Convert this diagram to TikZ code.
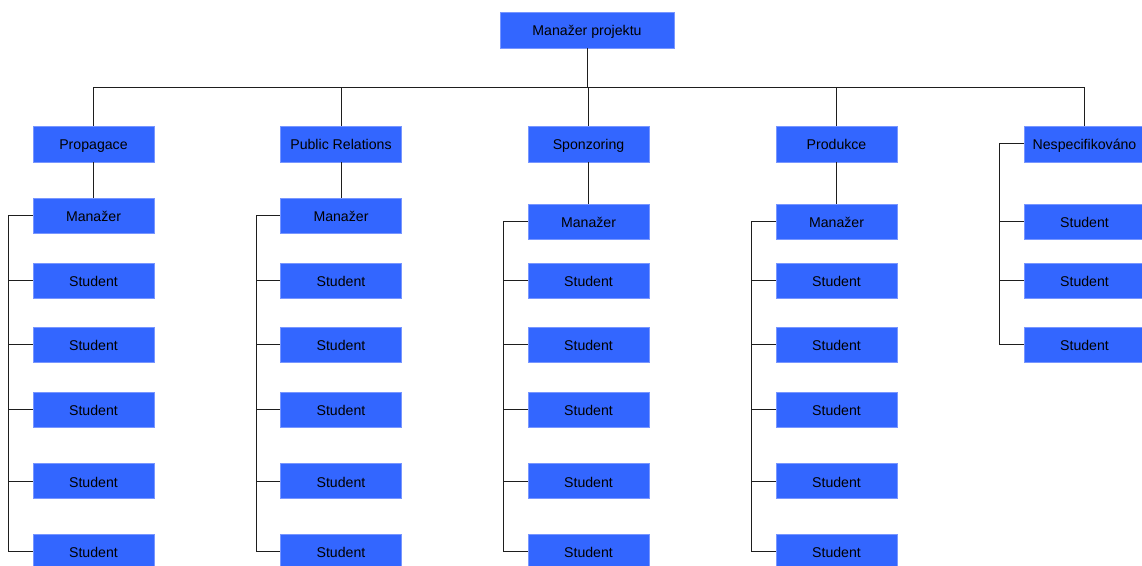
\documentclass[tikz,border=0pt]{standalone}
\usepackage{fontspec}
\setmainfont{Liberation Sans}
\definecolor{boxfill}{RGB}{51,102,255}
\definecolor{boxedge}{RGB}{120,150,255}
\definecolor{wire}{RGB}{30,30,30}
\begin{document}
\begin{tikzpicture}[x=0.75pt,y=-0.75pt,
  unit/.style={rectangle,fill=boxfill,draw=boxedge,line width=0.4pt,
    inner sep=0pt,minimum width=90.75pt,minimum height=26.4pt,
    text height=9pt,text depth=0pt,
    font=\fontsize{10.6pt}{12pt}\selectfont,text=black},
  link/.style={draw=wire,line width=0.75pt}]
\useasboundingbox (0,0) rectangle (1142,566);
\begin{scope}
\clip (0,0) rectangle (1142,566);

% project manager
\node[unit,minimum width=130.5pt,minimum height=27pt] (top) at (587,30) {Manažer projektu};

% departments
\node[unit,minimum height=27pt] (c1) at (93.5,144) {Propagace};
\node[unit,minimum height=27pt] (c2) at (341,144) {Public Relations};
\node[unit,minimum height=27pt] (c3) at (588.5,144) {Sponzoring};
\node[unit,minimum height=27pt] (c4) at (836.5,144) {Produkce};
\node[unit,minimum height=27pt] (c5) at (1084.5,144) {Nespecifikováno};

% managers
\node[unit] (m1) at (93.5,215.5) {Manažer};
\node[unit] (m2) at (341,215.5) {Manažer};
\node[unit] (m3) at (588.5,221.5) {Manažer};
\node[unit] (m4) at (836.5,221.5) {Manažer};

% students of the four teams
\foreach \i/\x in {1/93.5,2/341,3/588.5,4/836.5}{
  \foreach \j/\y in {1/280.5,2/344.5,3/410,4/481,5/551.5}{
    \node[unit] (s\i\j) at (\x,\y) {Student};
  }
}
% unassigned students
\node[unit] (s51) at (1084.5,221.5) {Student};
\node[unit] (s52) at (1084.5,280.5) {Student};
\node[unit] (s53) at (1084.5,344.5) {Student};

% bus from the project manager to the departments
\coordinate (bus) at (587,88);
\draw[link] (top.south) -- (bus);
\draw[link] (c1.north) |- (c5.north |- bus) -- (c5.north);
\foreach \c in {c2,c3,c4}{
  \draw[link] (\c.north) -- (\c.north |- bus);
}

% department to manager
\foreach \i in {1,2,3,4}{
  \draw[link] (c\i.south) -- (m\i.north);
}

% left brackets of the teams
\foreach \i in {1,2,3,4}{
  \coordinate (r\i) at ([xshift=-18pt]m\i.west);
  \draw[link] (m\i.west) -- (r\i) |- (s\i5.west);
  \foreach \j in {1,2,3,4}{
    \draw[link] (s\i\j.west) -- (s\i\j.west -| r\i);
  }
}
\coordinate (r5) at ([xshift=-18pt]c5.west);
\draw[link] (c5.west) -- (r5) |- (s53.west);
\draw[link] (s51.west) -- (s51.west -| r5);
\draw[link] (s52.west) -- (s52.west -| r5);
\end{scope}
\end{tikzpicture}
\end{document}
